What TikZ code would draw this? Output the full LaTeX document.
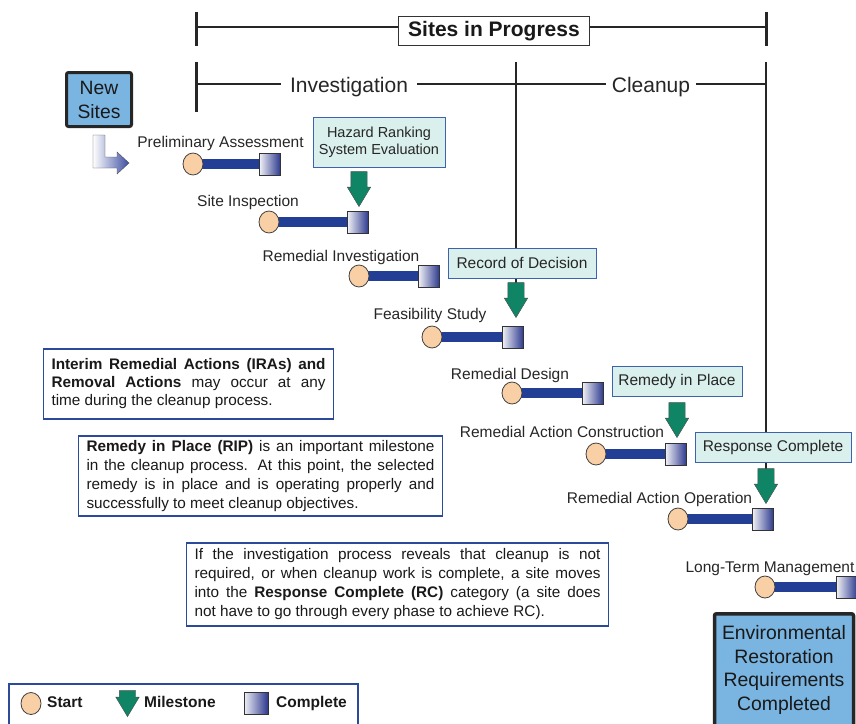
\documentclass[tikz,border=0pt]{standalone}
\usepackage{fontspec}
\setmainfont{Liberation Sans}
\usepackage{tikz}
\usetikzlibrary{positioning,shapes.geometric,shapes.arrows,backgrounds}
\tolerance=9999
\hbadness=10000
\definecolor{peach}{RGB}{249,207,165}
\definecolor{barblue}{RGB}{35,63,149}
\definecolor{doneblue}{RGB}{44,56,140}
\definecolor{milegreen}{RGB}{15,133,102}
\definecolor{boxfill}{RGB}{218,240,236}
\definecolor{boxblue}{RGB}{61,98,174}
\definecolor{noteblue}{RGB}{44,74,154}
\definecolor{goalblue}{RGB}{122,180,225}
\definecolor{arrowblue}{RGB}{59,78,163}

\begin{document}
\begin{tikzpicture}
[x=1pt, y=-1pt,
startnode/.style={ellipse, draw=black!75, thick, fill=peach, minimum width=20pt, minimum height=22pt, inner sep=0pt},
donenode/.style={rectangle, draw=black!80, thick, left color=white!92!doneblue, right color=doneblue, minimum width=21pt, minimum height=22pt, inner sep=0pt},
phasebar/.style={line width=10pt, draw=barblue},
milearrow/.style={single arrow, draw=black!70, fill=milegreen, rotate=-90, minimum height=35pt, minimum width=23pt, single arrow head extend=3.5pt, single arrow tip angle=62, inner xsep=0pt, inner ysep=8pt},
steplabel/.style={anchor=base, inner sep=0pt, text=black!85, font=\fontsize{15.5}{18}\selectfont},
milebox/.style={draw=boxblue, thick, fill=boxfill, minimum height=30pt, inner sep=2pt, text=black!85, font=\fontsize{15.5}{18}\selectfont},
notebox/.style={draw=noteblue, line width=1.5pt, inner xsep=8pt, align=justify, text=black!90},
goalbox/.style={draw=black!85, line width=3pt, fill=goalblue, rounded corners=2pt, align=center, text=black!90},
phase/.style={fill=white, anchor=base, inner ysep=2pt, text=black!85, font=\fontsize{21}{25}\selectfont},
legtext/.style={anchor=base west, inner sep=0pt, text=black!90, font=\fontsize{15.5}{18}\selectfont\bfseries},
bracket/.style={line width=2.5pt, draw=black!85},
tick/.style={line width=3pt, draw=black!85},
]
\useasboundingbox (0,0) rectangle (856,723);
\clip (0,0) rectangle (856,723);

% phase brackets
\coordinate (topL) at (196,27);
\coordinate (topR) at (766,27);
\coordinate (phaseL) at (196,84);
\coordinate (phaseR) at (766,84);
\coordinate (midTop) at (516,62);
\coordinate (rightTop) at (766,62);
\draw[tick] (196,12) -- (196,46);
\draw[tick] (766,12) -- (766,46);
\draw[tick] (196,62) -- (196,112);

\node[draw=black!80, thick, fill=white, anchor=base, inner xsep=9.4pt, inner ysep=4.5pt, text=black!90, font=\fontsize{21}{25}\selectfont\bfseries] (progress) at (494,36) {Sites in Progress};
\node[phase, inner xsep=9.5pt] (invest) at (349,92) {Investigation};
\node[phase, inner xsep=5.5pt] (cleanup) at (651,92) {Cleanup};

% start and end
\node[goalbox, minimum width=65pt, minimum height=54pt, font=\fontsize{19.3}{24}\selectfont] (newSites) at (99,99.5) {New\\Sites};
\node[goalbox, anchor=north, minimum width=139pt, inner ysep=12pt, line width=3.5pt, font=\fontsize{19.4}{23.5}\selectfont] (envDone) at (784,612) {Environmental\\Restoration\\Requirements\\Completed};
\draw[black!70, left color=white, right color=arrowblue] (93,135) -- (105,135) -- (105,157) -- (117,157) -- (117,152) -- (129,163) -- (117,174) -- (117,168) -- (93,168) -- cycle;

% milestones
\node[milebox, minimum width=132pt, minimum height=50pt, align=center, font=\fontsize{14.5}{17.5}\selectfont] (hrs) at (379,142) {Hazard Ranking\\System Evaluation};
\node[milebox, minimum width=148pt] (rod) at (522,263) {Record of Decision};
\node[milebox, minimum width=130pt] (rip) at (677,381) {Remedy in Place};
\node[milebox, minimum width=156pt] (rc) at (773,447) {Response Complete};
\node[milearrow, anchor=tip] (hrsArrow) at (359,207) {};
\node[milearrow, anchor=tip] (rodArrow) at (516,318) {};
\node[milearrow, anchor=tip] (ripArrow) at (677,438) {};
\node[milearrow, anchor=tip] (rcArrow) at (766,504) {};

% steps
\node[startnode] (startPA) at (193,164) {};
\node[donenode] (donePA) at (270,164) {};
\node[steplabel] (labelPA) at (220.5,147) {Preliminary Assessment};

\node[startnode] (startSI) at (269,222) {};
\node[donenode] (doneSI) at (358,222) {};
\node[steplabel] (labelSI) at (248,206) {Site Inspection};

\node[startnode] (startRI) at (359,276) {};
\node[donenode] (doneRI) at (429,276) {};
\node[steplabel] (labelRI) at (341,261) {Remedial Investigation};

\node[startnode] (startFS) at (432,337) {};
\node[donenode] (doneFS) at (513,337) {};
\node[steplabel] (labelFS) at (430,319) {Feasibility Study};

\node[startnode] (startRD) at (512,393) {};
\node[donenode] (doneRD) at (593,393) {};
\node[steplabel] (labelRD) at (510,379) {Remedial Design};

\node[startnode] (startRAC) at (596,454) {};
\node[donenode] (doneRAC) at (676,454) {};
\node[steplabel] (labelRAC) at (562,437) {Remedial Action Construction};

\node[startnode] (startRAO) at (678,519) {};
\node[donenode] (doneRAO) at (763,519) {};
\node[steplabel] (labelRAO) at (659.5,503) {Remedial Action Operation};

\node[startnode] (startLTM) at (765,587) {};
\node[donenode] (doneLTM) at (847,587) {};
\node[steplabel] (labelLTM) at (770,572) {Long-Term Management};

% notes
\node[notebox, text width=274pt, inner ysep=10pt, font=\fontsize{15.3}{18}\selectfont] (iraNote) at (188.5,384) {\textbf{Interim Remedial Actions (IRAs) and}\linebreak \textbf{Removal Actions} may occur at any\linebreak time during the cleanup process.};
\node[notebox, text width=348pt, inner ysep=4.5pt, font=\fontsize{15.3}{19}\selectfont] (ripNote) at (260.5,476) {\textbf{Remedy in Place (RIP)} is an important milestone\linebreak in the cleanup process. At this point, the selected\linebreak remedy is in place and is operating properly and\linebreak successfully to meet cleanup objectives.};
\node[notebox, text width=406pt, inner ysep=6pt, font=\fontsize{15.3}{19}\selectfont] (rcNote) at (397.5,584.5) {If the investigation process reveals that cleanup is not\linebreak required, or when cleanup work is complete, a site moves\linebreak into the \textbf{Response Complete (RC)} category (a site does\linebreak not have to go through every phase to achieve RC).};

% legend
\node[draw=noteblue, line width=1.5pt, minimum width=349pt, minimum height=60pt, anchor=north west] (legend) at (8,683) {};
\node[startnode] (legStart) at (31,703.5) {};
\node[legtext] (legStartText) at (47,707) {Start};
\node[milearrow, minimum height=26pt, anchor=tip] (legMile) at (127.5,717) {};
\node[legtext] (legMileText) at (144,707) {Milestone};
\node[donenode, minimum width=24pt] (legDone) at (256,703) {};
\node[legtext] (legDoneText) at (276,707) {Complete};

\begin{scope}[on background layer]
\draw[bracket] (topL) -- (topR);
\draw[bracket] (phaseL) -- (phaseR);
\draw[bracket] (midTop) -- (rodArrow.center);
\draw[bracket] (rightTop) -- (rcArrow.center);
\draw[phasebar] (startPA.center) -- (donePA.center);
\draw[phasebar] (startSI.center) -- (doneSI.center);
\draw[phasebar] (startRI.center) -- (doneRI.center);
\draw[phasebar] (startFS.center) -- (doneFS.center);
\draw[phasebar] (startRD.center) -- (doneRD.center);
\draw[phasebar] (startRAC.center) -- (doneRAC.center);
\draw[phasebar] (startRAO.center) -- (doneRAO.center);
\draw[phasebar] (startLTM.center) -- (doneLTM.center);
\end{scope}
\end{tikzpicture}
\end{document}
